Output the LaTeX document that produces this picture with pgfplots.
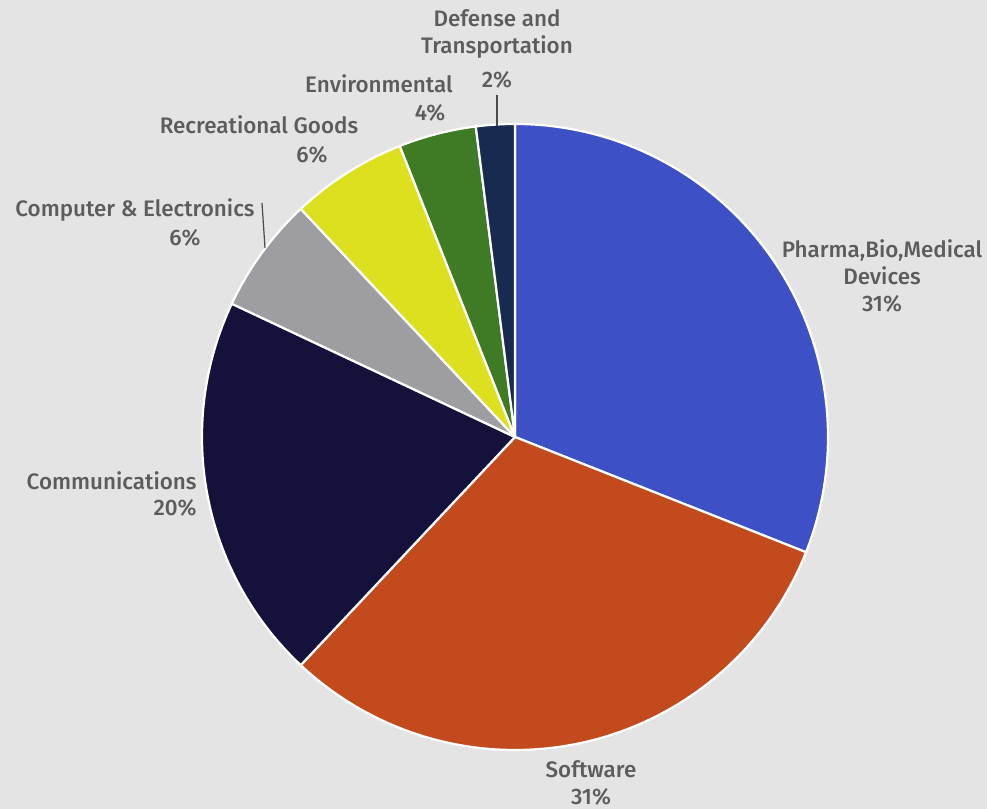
\documentclass[border=0pt]{standalone}
\usepackage{pgfplots}
\usepackage{pgfplotstable}
\pgfplotsset{compat=1.18}
\usepackage{fontspec}
\setmainfont{Fira Sans}[BoldFont={Fira Sans Medium}]
\definecolor{bg}{HTML}{E4E4E4}
\definecolor{txt}{HTML}{5C5C5C}
\definecolor{c0}{HTML}{3E50C6}
\definecolor{c1}{HTML}{C24A1C}
\definecolor{c2}{HTML}{14113A}
\definecolor{c3}{HTML}{9E9EA2}
\definecolor{c4}{HTML}{DCE01E}
\definecolor{c5}{HTML}{3F7A24}
\definecolor{c6}{HTML}{172A50}
\pgfplotstableread{
idx value
0 31
1 31
2 20
3 6
4 6
5 4
6 2
}\piedata
\newcommand\pieslice[2]{%
  \fill[#2,draw=white,line width=1.1pt,line join=round]
    (axis cs:515,372) -- (axis cs:{515+313*cos(\csname sa#1\endcsname)},{372+313*sin(\csname sa#1\endcsname)})
    arc[start angle=\csname sa#1\endcsname, end angle=\csname ea#1\endcsname, radius=313] -- cycle;}
\begin{document}
\begin{tikzpicture}
\def\acc{0}
\pgfplotsforeachungrouped \i in {0,...,6}{%
  \pgfplotstablegetelem{\i}{value}\of\piedata
  \edef\v{\pgfplotsretval}%
  \pgfmathsetmacro\a{90-3.6*\acc}%
  \pgfmathsetmacro\b{90-3.6*(\acc+\v)}%
  \expandafter\xdef\csname sa\i\endcsname{\a}%
  \expandafter\xdef\csname ea\i\endcsname{\b}%
  \pgfmathsetmacro\acc{\acc+\v}%
}
\begin{axis}[
  scale only axis, width=493.5pt, height=404.5pt,
  xmin=0, xmax=987, ymin=0, ymax=809,
  hide axis, clip=false,
]
\fill[bg] (axis cs:0,0) rectangle (axis cs:987,809);
\pieslice{0}{c0}
\pieslice{1}{c1}
\pieslice{2}{c2}
\pieslice{3}{c3}
\pieslice{4}{c4}
\pieslice{5}{c5}
\pieslice{6}{c6}
\draw[txt!80!black,line width=0.6pt] (axis cs:497,714) -- (axis cs:497,683);
\draw[txt!80!black,line width=0.6pt] (axis cs:262,606) -- (axis cs:265,561);
\begin{scope}[every node/.style={text=txt,font=\bfseries\fontsize{11.2}{13.5}\selectfont,inner sep=0pt}]
\node[align=center] at (axis cs:497,775) {Defense and\\Transportation};
\node at (axis cs:497,729) {2\%};
\node at (axis cs:379,725) {Environmental};
\node at (axis cs:430,696) {4\%};
\node at (axis cs:259,684) {Recreational Goods};
\node at (axis cs:312,654) {6\%};
\node at (axis cs:135,599) {Computer \& Electronics};
\node at (axis cs:185,571) {6\%};
\node[align=center] at (axis cs:882,533) {Pharma,Bio,Medical\\Devices\\31\%};
\node[anchor=east] at (axis cs:197,328) {Communications};
\node[anchor=east] at (axis cs:197,301) {20\%};
\node[align=center] at (axis cs:591,26) {Software\\31\%};
\end{scope}
\end{axis}
\end{tikzpicture}
\end{document}
